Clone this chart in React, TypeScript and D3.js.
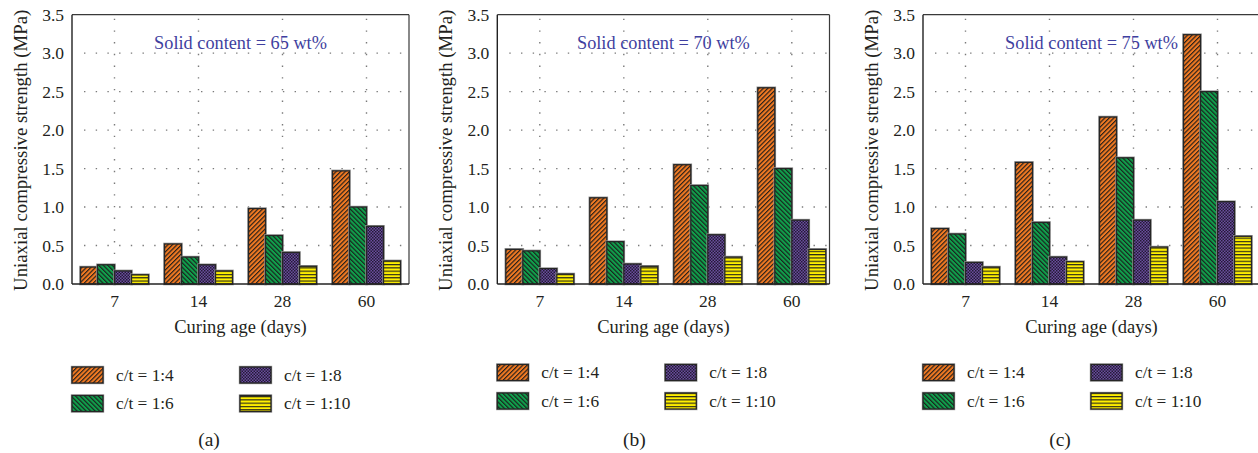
import React from "react";
import * as d3 from "d3";

const categories = ["7", "14", "28", "60"];
const seriesNames = ["c/t = 1:4", "c/t = 1:6", "c/t = 1:8", "c/t = 1:10"];
const yTicks = [0, 0.5, 1.0, 1.5, 2.0, 2.5, 3.0, 3.5];
const panelTitles = ["Solid content = 65 wt%", "Solid content = 70 wt%", "Solid content = 75 wt%"];
const captions = ["(a)", "(b)", "(c)"];
const yTitle = "Uniaxial compressive strength (MPa)";
const xTitle = "Curing age (days)";

// values[series][category]
const solid65 = [
  [0.22, 0.52, 0.98, 1.47],
  [0.25, 0.35, 0.63, 1.0],
  [0.17, 0.25, 0.41, 0.75],
  [0.12, 0.17, 0.23, 0.3],
];
const solid70 = [
  [0.45, 1.12, 1.55, 2.55],
  [0.43, 0.55, 1.28, 1.5],
  [0.2, 0.26, 0.64, 0.83],
  [0.13, 0.23, 0.35, 0.45],
];
const solid75 = [
  [0.72, 1.58, 2.17, 3.24],
  [0.65, 0.8, 1.64, 2.5],
  [0.28, 0.35, 0.83, 1.07],
  [0.22, 0.29, 0.48, 0.62],
];
const panelData = [solid65, solid70, solid75];

const seriesColors = ["#f27a22", "#10a04c", "#6a4e9e", "#fff000"];
const patternIds = ["patOrange", "patGreen", "patPurple", "patYellow"];

const layouts = [
  { left: 72, right: 409 },
  { left: 497.3, right: 829.5 },
  { left: 923, right: 1262 },
];
const TOP = 14.7;
const BOTTOM = 284;
const FONT = "'Liberation Serif', 'Times New Roman', serif";
const TEXT = "#231f20";

function Patterns() {
  return (
    <defs>
      <pattern id="patOrange" patternUnits="userSpaceOnUse" width={3.2} height={3.2} patternTransform="rotate(45)">
        <rect width={3.2} height={3.2} fill={seriesColors[0]} />
        <line x1={0.6} y1={0} x2={0.6} y2={3.2} stroke="#1a1a1a" strokeWidth={1.1} />
      </pattern>
      <pattern id="patGreen" patternUnits="userSpaceOnUse" width={3.2} height={3.2} patternTransform="rotate(-45)">
        <rect width={3.2} height={3.2} fill={seriesColors[1]} />
        <line x1={0.6} y1={0} x2={0.6} y2={3.2} stroke="#1a1a1a" strokeWidth={1.1} />
      </pattern>
      <pattern id="patPurple" patternUnits="userSpaceOnUse" width={3} height={3}>
        <rect width={3} height={3} fill={seriesColors[2]} />
        <rect x={0} y={0} width={1.5} height={1.5} fill="#241a36" />
        <rect x={1.5} y={1.5} width={1.5} height={1.5} fill="#241a36" />
      </pattern>
      <pattern id="patYellow" patternUnits="userSpaceOnUse" width={4} height={3.3}>
        <rect width={4} height={3.3} fill={seriesColors[3]} />
        <line x1={0} y1={0.6} x2={4} y2={0.6} stroke="#1a1a1a" strokeWidth={1.1} />
      </pattern>
    </defs>
  );
}

function Panel({ idx }: { idx: number }) {
  const { left, right } = layouts[idx];
  const data = panelData[idx];
  const x = d3.scaleBand<string>().domain(categories).range([left + 0.5, left + 336.5]).padding(0);
  const inner = d3
    .scaleBand<string>()
    .domain(seriesNames)
    .range([(x.bandwidth() - 68) / 2, (x.bandwidth() + 68) / 2])
    .padding(0);
  const y = d3.scaleLinear().domain([0, 3.5]).range([BOTTOM, TOP]);
  const cx = (left + Math.min(right, 1260)) / 2;

  return (
    <g>
      {/* grid */}
      {yTicks
        .filter((t) => t > 0 && t < 3.5)
        .map((t) => (
          <line key={"h" + t} x1={left + 12} x2={right} y1={y(t)} y2={y(t)} stroke="#7a7a7a" strokeWidth={1.4} strokeDasharray="1.4 10.3" />
        ))}
      {categories.map((c) => (
        <line key={"v" + c} x1={x(c)! + x.bandwidth() / 2} x2={x(c)! + x.bandwidth() / 2} y1={TOP + 4} y2={BOTTOM} stroke="#7a7a7a" strokeWidth={1.4} strokeDasharray="1.4 10.3" />
      ))}
      {/* bars */}
      {categories.map((c, ci) =>
        seriesNames.map((s, si) => {
          const bx = x(c)! + inner(s)!;
          const by = y(data[si][ci]);
          const h = BOTTOM - by;
          return (
            <g key={c + s}>
              <rect x={bx} y={by} width={inner.bandwidth()} height={h} fill="none" stroke="#9a9a9a" strokeWidth={2.6} />
              <rect x={bx} y={by} width={inner.bandwidth()} height={h} fill={`url(#${patternIds[si]})`} stroke="#262626" strokeWidth={1.3} />
            </g>
          );
        })
      )}
      {/* frame */}
      <line x1={left} x2={right} y1={TOP} y2={TOP} stroke="#3a3a3a" strokeWidth={1.2} />
      <line x1={right} x2={right} y1={TOP} y2={BOTTOM} stroke="#3a3a3a" strokeWidth={1.2} />
      <line x1={left} x2={right} y1={BOTTOM} y2={BOTTOM} stroke="#222" strokeWidth={1.4} />
      <line x1={left} x2={left} y1={TOP} y2={BOTTOM} stroke="#222" strokeWidth={1.4} />
      {/* y ticks */}
      {yTicks.map((t) => (
        <text key={"yt" + t} x={left - 8} y={y(t) + 6} textAnchor="end" fontFamily={FONT} fontSize={17.5} fill={TEXT}>
          {t.toFixed(1)}
        </text>
      ))}
      {/* x ticks */}
      {categories.map((c) => (
        <text key={"xt" + c} x={x(c)! + x.bandwidth() / 2} y={306.5} textAnchor="middle" fontFamily={FONT} fontSize={17.5} fill={TEXT}>
          {c}
        </text>
      ))}
      <text x={cx} y={332.5} textAnchor="middle" fontFamily={FONT} fontSize={18.5} fill={TEXT}>
        {xTitle}
      </text>
      <text transform={`translate(${left - 45.5},${(TOP + BOTTOM) / 2 + 1}) rotate(-90)`} textAnchor="middle" fontFamily={FONT} fontSize={18.8} fill={TEXT}>
        {yTitle}
      </text>
      <text x={cx} y={49} textAnchor="middle" fontFamily={FONT} fontSize={18.3} fill="#3f3fa0">
        {panelTitles[idx]}
      </text>
      {/* legend */}
      {seriesNames.map((s, si) => {
        const col = si < 2 ? 0 : 1;
        const row = si % 2;
        const lx = left + col * 168;
        const ly = (idx === 0 ? 367 : 364.5) + row * 28.5;
        return (
          <g key={"lg" + s}>
            <rect x={lx} y={ly} width={31} height={16} fill="none" stroke="#9a9a9a" strokeWidth={2.4} />
            <rect x={lx} y={ly} width={31} height={16} fill={`url(#${patternIds[si]})`} stroke="#262626" strokeWidth={1.3} />
            <text x={lx + 44} y={ly + 13.5} fontFamily={FONT} fontSize={17.3} fill={TEXT}>
              {s}
            </text>
          </g>
        );
      })}
      <text x={left + 137} y={446} textAnchor="middle" fontFamily={FONT} fontSize={19.5} fill={TEXT}>
        {captions[idx]}
      </text>
    </g>
  );
}

export default function App() {
  return (
    <svg width={1258} height={453} style={{ position: "absolute", left: 0, top: 0, background: "#fff" }}>
      <Patterns />
      <rect width={1258} height={453} fill="#fff" />
      {[0, 1, 2].map((i) => (
        <Panel key={i} idx={i} />
      ))}
    </svg>
  );
}
